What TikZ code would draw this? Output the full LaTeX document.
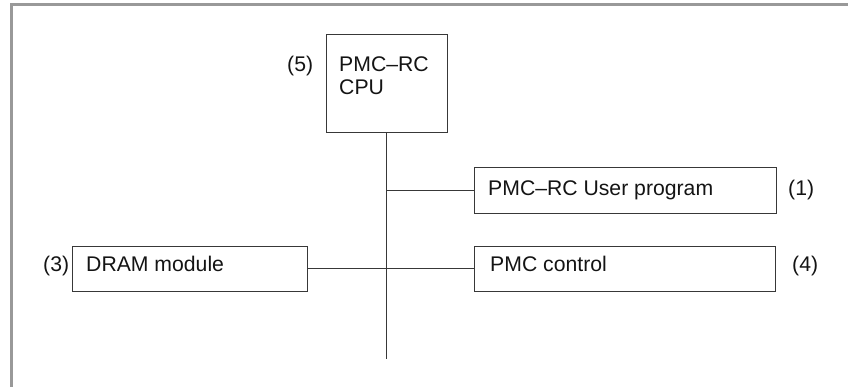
\documentclass[tikz,border=0pt]{standalone}
\usepackage{fontspec}
\setmainfont{Liberation Sans}
\begin{document}
\begin{tikzpicture}[x=1pt,y=-1pt,
  box/.style={draw=black!78,line width=1.1pt,inner sep=0pt,anchor=north west},
  txt/.style={inner sep=0pt,anchor=base west,text=black!92,font=\fontsize{21.2}{23}\selectfont},
  wire/.style={draw=black!78,line width=1.1pt},
  frame/.style={draw=black!40,line width=2.6pt}]
\useasboundingbox (0,0) rectangle (848,387);
% frame
\draw[frame] (11.5,387) -- (11.5,4.5) -- (848,4.5);
% boxes
\node[box,minimum width=120.7pt,minimum height=98.3pt] (cpu) at (326,34) {};
\node[box,minimum width=302.3pt,minimum height=45.4pt] (user) at (473.7,167.3) {};
\node[box,minimum width=301.3pt,minimum height=44.7pt] (pmc) at (473.7,246) {};
\node[box,minimum width=234.7pt,minimum height=44.7pt] (dram) at (72,246) {};
% texts
\node[txt] (cpu1) at (339,72) {PMC–RC};
\node[txt] (cpu2) at (339,95) {CPU};
\node[txt] (n5) at (287,72) {(5)};
\node[txt] (usert) at (488,196) {PMC–RC User program};
\node[txt] (n1) at (788,196) {(1)};
\node[txt] (pmct) at (490,272) {PMC control};
\node[txt] (n4) at (792,272) {(4)};
\node[txt] (dramt) at (86,272) {DRAM module};
\node[txt] (n3) at (43,272) {(3)};
% connectors
\coordinate (busend) at (cpu.south |- 0,359);
\draw[wire] (cpu.south) -- (busend);
\draw[wire] (user.west) -- (cpu.south |- user.west);
\draw[wire] (dram.east) -- (pmc.west);
\end{tikzpicture}
\end{document}
